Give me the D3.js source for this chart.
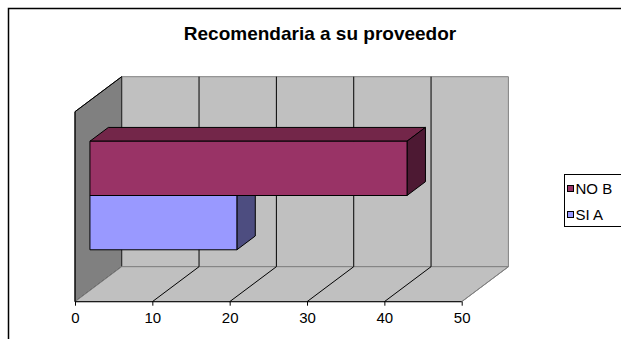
<!DOCTYPE html>
<html>
<head>
<meta charset="utf-8">
<script src="https://cdn.jsdelivr.net/npm/d3@7"></script>
<style>
  html, body { margin: 0; padding: 0; background: #fff; }
  svg { display: block; font-family: "Liberation Sans", Arial, sans-serif; }
</style>
</head>
<body>
<svg id="chart" width="621" height="339"></svg>
<script>
// Chart data
const title = "Recomendaria a su proveedor";
const seriesNames = ["NO B", "SI A"];   // top to bottom
const seriesValues = [41, 19];
const tickValues = [0, 10, 20, 30, 40, 50];

const svg = d3.select("#chart");

// Outer chart frame (runs off the right and bottom edges)
svg.append("rect")
  .attr("x", 8.5).attr("y", 8.5)
  .attr("width", 700).attr("height", 400)
  .attr("fill", "#fff").attr("stroke", "#000").attr("stroke-width", 1.5);

svg.append("text")
  .attr("x", 320).attr("y", 40)
  .attr("text-anchor", "middle")
  .attr("font-size", 19).attr("font-weight", "bold")
  .text(title);

// 3D plot geometry: front plane + depth offset
const front = { left: 75, top: 111.7, bottom: 301.7 };
const depth = { dx: 46.7, dy: -35 };
const x = d3.scaleLinear().domain([0, 50]).range([front.left, 461.7]);
const y = d3.scaleBand().domain(seriesNames)
  .range([front.top, front.bottom]).paddingInner(0).paddingOuter(0.75);
const zFront = 0.32, zBack = 0.714;   // bar depth as fraction of plot depth

const P = (px, py, z) => [px + depth.dx * z, py + depth.dy * z];
const poly = pts => "M" + pts.map(p => p.join(",")).join("L") + "Z";

const g = svg.append("g");
const x0 = x(0), x50 = x(50);

// back wall
g.append("path")
  .attr("d", poly([P(x0, front.top, 1), P(x50, front.top, 1), P(x50, front.bottom, 1), P(x0, front.bottom, 1)]))
  .attr("fill", "#c0c0c0").attr("stroke", "#808080").attr("stroke-width", 1);
// side wall
g.append("path")
  .attr("d", poly([P(x0, front.bottom, 0), P(x0, front.top, 0), P(x0, front.top, 1), P(x0, front.bottom, 1)]))
  .attr("fill", "#808080").attr("stroke", "#222").attr("stroke-width", 1);
// floor
g.append("path")
  .attr("d", poly([P(x0, front.bottom, 0), P(x50, front.bottom, 0), P(x50, front.bottom, 1), P(x0, front.bottom, 1)]))
  .attr("fill", "#c0c0c0").attr("stroke", "#808080").attr("stroke-width", 1);

// gridlines on the back wall and across the floor
const inner = tickValues.filter(v => v > 0 && v < 50);
g.selectAll(".gw").data(inner).join("line")
  .attr("x1", d => P(x(d), front.top, 1)[0]).attr("y1", P(0, front.top, 1)[1])
  .attr("x2", d => P(x(d), front.bottom, 1)[0]).attr("y2", P(0, front.bottom, 1)[1])
  .attr("stroke", "#000").attr("stroke-width", 1);
g.selectAll(".gf").data(tickValues.filter(v => v > 0)).join("line")
  .attr("x1", d => x(d)).attr("y1", front.bottom)
  .attr("x2", d => P(x(d), front.bottom, 1)[0]).attr("y2", P(0, front.bottom, 1)[1])
  .attr("stroke", d => d === 50 ? "#808080" : "#000").attr("stroke-width", 1);
g.append("line")
  .attr("x1", x0).attr("y1", front.top).attr("x2", x0).attr("y2", front.bottom)
  .attr("stroke", "#000");
g.append("line")
  .attr("x1", x0).attr("y1", front.top).attr("x2", P(x0, 0, 1)[0]).attr("y2", P(0, front.top, 1)[1])
  .attr("stroke", "#000");

// value axis along the front edge of the floor
const axis = d3.axisBottom(x).tickValues(tickValues).tickSize(4).tickPadding(7);
const ax = svg.append("g").attr("transform", `translate(0,${front.bottom})`).call(axis);
ax.select(".domain").attr("stroke", "#000").attr("d", `M${x0},0H${x50}`);
ax.selectAll(".tick line").attr("stroke", "#000");
ax.selectAll("text").attr("font-size", 15).attr("fill", "#000")
  .attr("font-family", "Liberation Sans, Arial, sans-serif");

// bars
const palette = {
  "NO B": { front: "#993366", top: "#732649", side: "#4d1933" },
  "SI A": { front: "#9999ff", top: "#7373bf", side: "#4d4d80" }
};
const bars = seriesNames.map((n, i) => ({ name: n, value: seriesValues[i] }));
const drawOrder = bars.slice().reverse();   // lower bar first
drawOrder.forEach(b => {
  const c = palette[b.name];
  const yt = y(b.name), yb = y(b.name) + y.bandwidth();
  const xl = x(0), xr = x(b.value);
  const bg = g.append("g").attr("stroke", "#000").attr("stroke-width", 1).attr("stroke-linejoin", "round");
  bg.append("path") // top face
    .attr("d", poly([P(xl, yt, zFront), P(xr, yt, zFront), P(xr, yt, zBack), P(xl, yt, zBack)]))
    .attr("fill", c.top);
  bg.append("path") // right face
    .attr("d", poly([P(xr, yt, zFront), P(xr, yt, zBack), P(xr, yb, zBack), P(xr, yb, zFront)]))
    .attr("fill", c.side);
  bg.append("path") // front face
    .attr("d", poly([P(xl, yt, zFront), P(xr, yt, zFront), P(xr, yb, zFront), P(xl, yb, zFront)]))
    .attr("fill", c.front);
});

// legend
const lg = svg.append("g");
lg.append("rect").attr("x", 564.5).attr("y", 174.5).attr("width", 120).attr("height", 52)
  .attr("fill", "#fff").attr("stroke", "#000").attr("stroke-width", 1);
const ly = d3.scalePoint().domain(seriesNames).range([188.5, 214.5]);
seriesNames.forEach(n => {
  lg.append("rect").attr("x", 567.5).attr("y", ly(n) - 3).attr("width", 6).attr("height", 6)
    .attr("fill", palette[n].front).attr("stroke", "#000").attr("stroke-width", 1);
  lg.append("text").attr("x", 575.5).attr("y", ly(n)).attr("dy", "0.36em")
    .attr("font-size", 15).text(n);
});
</script>
</body>
</html>
